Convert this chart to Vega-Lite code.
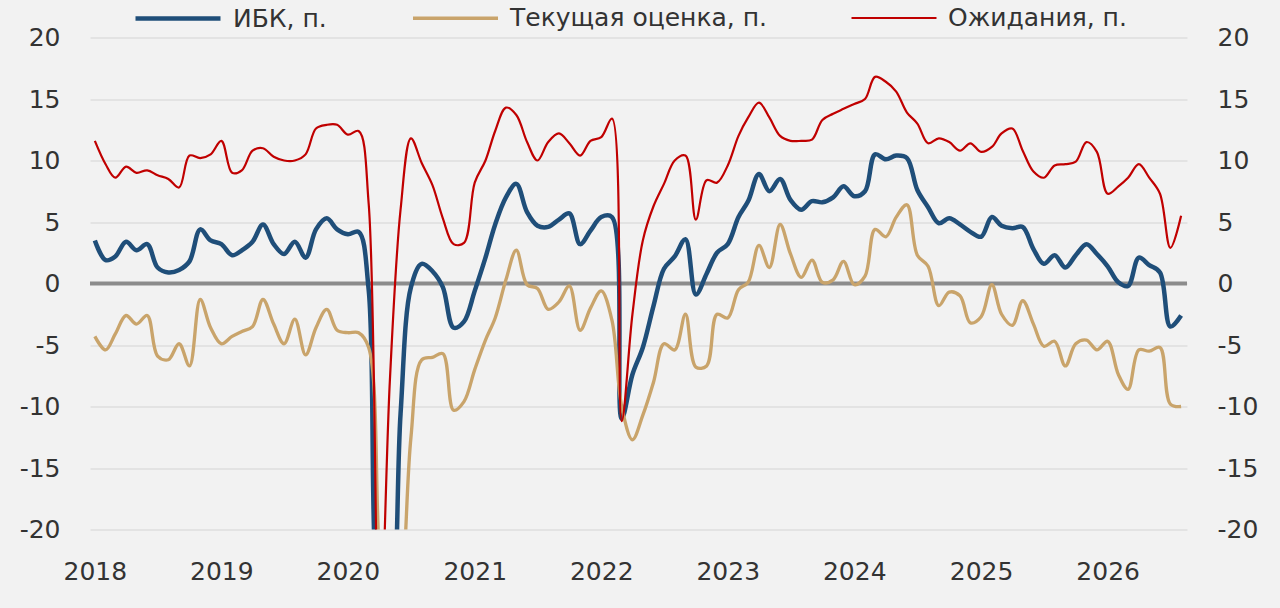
{
  "$schema": "https://vega.github.io/schema/vega-lite/v6.json",
  "width": 1097,
  "height": 492,
  "autosize": {"type": "none"},
  "padding": {"left": 90, "top": 37.5, "right": 93, "bottom": 78.5},
  "background": "#f2f2f2",
  "config": {
    "view": {"stroke": null},
    "axis": {
      "labelFont": "DejaVu Sans",
      "labelFontSize": 25,
      "labelColor": "#333333",
      "domain": false,
      "ticks": false,
      "title": null
    }
  },
  "data": {
    "values": [
      {"d": "2018-01-15", "a": 3.5, "b": -4.3, "c": 11.6},
      {"d": "2018-02-15", "a": 1.9, "b": -5.4, "c": 9.7},
      {"d": "2018-03-15", "a": 2.2, "b": -4.1, "c": 8.6},
      {"d": "2018-04-15", "a": 3.4, "b": -2.6, "c": 9.5},
      {"d": "2018-05-15", "a": 2.7, "b": -3.3, "c": 9.0},
      {"d": "2018-06-15", "a": 3.2, "b": -2.6, "c": 9.2},
      {"d": "2018-07-15", "a": 1.3, "b": -5.9, "c": 8.8},
      {"d": "2018-08-15", "a": 0.9, "b": -6.2, "c": 8.5},
      {"d": "2018-09-15", "a": 1.1, "b": -4.9, "c": 7.8},
      {"d": "2018-10-15", "a": 1.8, "b": -6.7, "c": 10.4},
      {"d": "2018-11-15", "a": 4.4, "b": -1.3, "c": 10.2},
      {"d": "2018-12-15", "a": 3.5, "b": -3.6, "c": 10.5},
      {"d": "2019-01-15", "a": 3.2, "b": -4.9, "c": 11.6},
      {"d": "2019-02-15", "a": 2.3, "b": -4.3, "c": 9.0},
      {"d": "2019-03-15", "a": 2.7, "b": -3.9, "c": 9.2},
      {"d": "2019-04-15", "a": 3.4, "b": -3.5, "c": 10.8},
      {"d": "2019-05-15", "a": 4.8, "b": -1.3, "c": 11.0},
      {"d": "2019-06-15", "a": 3.2, "b": -3.3, "c": 10.3},
      {"d": "2019-07-15", "a": 2.4, "b": -4.9, "c": 10.0},
      {"d": "2019-08-15", "a": 3.4, "b": -2.9, "c": 10.0},
      {"d": "2019-09-15", "a": 2.1, "b": -5.8, "c": 10.5},
      {"d": "2019-10-15", "a": 4.4, "b": -3.6, "c": 12.6},
      {"d": "2019-11-15", "a": 5.3, "b": -2.1, "c": 12.9},
      {"d": "2019-12-15", "a": 4.4, "b": -3.8, "c": 12.9},
      {"d": "2020-01-15", "a": 4.0, "b": -4.0, "c": 12.1},
      {"d": "2020-02-15", "a": 4.2, "b": -4.0, "c": 12.4},
      {"d": "2020-03-15", "a": -0.5, "b": -5.2, "c": 6.5},
      {"d": "2020-04-15", "a": -26, "b": -22, "c": -30},
      {"d": "2020-05-15", "a": -28, "b": -30, "c": -8},
      {"d": "2020-06-15", "a": -10.6, "b": -26, "c": 6.0},
      {"d": "2020-07-15", "a": -0.3, "b": -12.5, "c": 11.8},
      {"d": "2020-08-15", "a": 1.6, "b": -6.2, "c": 9.8},
      {"d": "2020-09-15", "a": 1.0, "b": -6.0, "c": 8.0},
      {"d": "2020-10-15", "a": -0.3, "b": -5.7, "c": 5.3},
      {"d": "2020-11-15", "a": -3.6, "b": -10.3, "c": 3.2},
      {"d": "2020-12-15", "a": -3.1, "b": -9.6, "c": 3.3},
      {"d": "2021-01-15", "a": -0.6, "b": -7.0, "c": 8.2},
      {"d": "2021-02-15", "a": 2.1, "b": -4.6, "c": 10.0},
      {"d": "2021-03-15", "a": 4.8, "b": -2.8, "c": 12.4},
      {"d": "2021-04-15", "a": 7.0, "b": 0.3, "c": 14.3},
      {"d": "2021-05-15", "a": 8.1, "b": 2.7, "c": 13.7},
      {"d": "2021-06-15", "a": 5.8, "b": -0.1, "c": 11.5},
      {"d": "2021-07-15", "a": 4.7, "b": -0.4, "c": 10.0},
      {"d": "2021-08-15", "a": 4.6, "b": -2.1, "c": 11.5},
      {"d": "2021-09-15", "a": 5.2, "b": -1.5, "c": 12.2},
      {"d": "2021-10-15", "a": 5.7, "b": -0.2, "c": 11.4},
      {"d": "2021-11-15", "a": 3.2, "b": -3.8, "c": 10.4},
      {"d": "2021-12-15", "a": 4.3, "b": -2.0, "c": 11.6},
      {"d": "2022-01-15", "a": 5.4, "b": -0.6, "c": 11.9},
      {"d": "2022-02-15", "a": 5.4, "b": -3.0, "c": 13.4},
      {"d": "2022-03-15", "a": -11.0, "b": -10.0, "c": -11.2},
      {"d": "2022-04-15", "a": -7.4, "b": -12.7, "c": -2.5},
      {"d": "2022-05-15", "a": -5.2, "b": -10.7, "c": 3.5},
      {"d": "2022-06-15", "a": -1.8, "b": -8.0, "c": 6.3},
      {"d": "2022-07-15", "a": 1.2, "b": -4.9, "c": 8.1},
      {"d": "2022-08-15", "a": 2.2, "b": -5.4, "c": 10.0},
      {"d": "2022-09-15", "a": 3.6, "b": -2.5, "c": 10.4},
      {"d": "2022-10-15", "a": -0.9, "b": -6.8, "c": 5.2},
      {"d": "2022-11-15", "a": 0.8, "b": -6.7, "c": 8.4},
      {"d": "2022-12-15", "a": 2.5, "b": -2.5, "c": 8.2},
      {"d": "2023-01-15", "a": 3.2, "b": -2.8, "c": 9.6},
      {"d": "2023-02-15", "a": 5.4, "b": -0.5, "c": 12.0},
      {"d": "2023-03-15", "a": 6.7, "b": 0.1, "c": 13.5},
      {"d": "2023-04-15", "a": 8.9, "b": 3.1, "c": 14.7},
      {"d": "2023-05-15", "a": 7.5, "b": 1.3, "c": 13.5},
      {"d": "2023-06-15", "a": 8.5, "b": 4.8, "c": 12.0},
      {"d": "2023-07-15", "a": 6.8, "b": 2.4, "c": 11.6},
      {"d": "2023-08-15", "a": 6.0, "b": 0.5, "c": 11.6},
      {"d": "2023-09-15", "a": 6.7, "b": 1.9, "c": 11.7},
      {"d": "2023-10-15", "a": 6.6, "b": 0.1, "c": 13.3},
      {"d": "2023-11-15", "a": 7.0, "b": 0.3, "c": 13.8},
      {"d": "2023-12-15", "a": 7.9, "b": 1.8, "c": 14.2},
      {"d": "2024-01-15", "a": 7.1, "b": -0.1, "c": 14.6},
      {"d": "2024-02-15", "a": 7.5, "b": 0.6, "c": 15.0},
      {"d": "2024-03-15", "a": 10.5, "b": 4.4, "c": 16.8},
      {"d": "2024-04-15", "a": 10.1, "b": 3.8, "c": 16.4},
      {"d": "2024-05-15", "a": 10.4, "b": 5.4, "c": 15.6},
      {"d": "2024-06-15", "a": 10.2, "b": 6.4, "c": 13.9},
      {"d": "2024-07-15", "a": 7.6, "b": 2.3, "c": 13.0},
      {"d": "2024-08-15", "a": 6.2, "b": 1.4, "c": 11.4},
      {"d": "2024-09-15", "a": 4.9, "b": -1.8, "c": 11.8},
      {"d": "2024-10-15", "a": 5.3, "b": -0.7, "c": 11.5},
      {"d": "2024-11-15", "a": 4.8, "b": -1.0, "c": 10.8},
      {"d": "2024-12-15", "a": 4.2, "b": -3.2, "c": 11.4},
      {"d": "2025-01-15", "a": 3.8, "b": -2.7, "c": 10.7},
      {"d": "2025-02-15", "a": 5.4, "b": -0.1, "c": 11.1},
      {"d": "2025-03-15", "a": 4.7, "b": -2.5, "c": 12.2},
      {"d": "2025-04-15", "a": 4.5, "b": -3.4, "c": 12.6},
      {"d": "2025-05-15", "a": 4.6, "b": -1.4, "c": 10.8},
      {"d": "2025-06-15", "a": 2.8, "b": -3.3, "c": 9.1},
      {"d": "2025-07-15", "a": 1.6, "b": -5.1, "c": 8.6},
      {"d": "2025-08-15", "a": 2.3, "b": -4.7, "c": 9.6},
      {"d": "2025-09-15", "a": 1.3, "b": -6.7, "c": 9.7},
      {"d": "2025-10-15", "a": 2.3, "b": -4.9, "c": 9.9},
      {"d": "2025-11-15", "a": 3.2, "b": -4.6, "c": 11.5},
      {"d": "2025-12-15", "a": 2.4, "b": -5.4, "c": 10.7},
      {"d": "2026-01-15", "a": 1.4, "b": -4.7, "c": 7.3},
      {"d": "2026-02-15", "a": 0.1, "b": -7.4, "c": 7.9},
      {"d": "2026-03-15", "a": -0.2, "b": -8.6, "c": 8.6},
      {"d": "2026-04-15", "a": 2.1, "b": -5.4, "c": 9.7},
      {"d": "2026-05-15", "a": 1.5, "b": -5.5, "c": 8.6},
      {"d": "2026-06-15", "a": 0.9, "b": -5.2, "c": 7.3},
      {"d": "2026-07-15", "a": -3.5, "b": -9.8, "c": 2.9},
      {"d": "2026-08-15", "a": -2.6, "b": -10.0, "c": 5.5}
    ]
  },
  "layer": [
    {
      "data": {"values": [{"z": 0}]},
      "mark": {"type": "rule", "color": "#8c8c8c", "strokeWidth": 4},
      "encoding": {
        "y": {
          "field": "z",
          "type": "quantitative",
          "scale": {"domain": [-20, 20], "nice": false},
          "axis": {
            "orient": "right",
            "values": [-20, -15, -10, -5, 0, 5, 10, 15, 20],
            "grid": false,
            "labelPadding": 30,
            "labelAlign": "left",
            "labelExpr": "'' + datum.value"
          }
        }
      }
    },
    {
      "transform": [
        {"fold": ["a", "b", "c"], "as": ["k", "v"]},
        {"calculate": "datum.k === 'a' ? 'ИБК, п.' : datum.k === 'b' ? 'Текущая оценка, п.' : 'Ожидания, п.'", "as": "series"}
      ],
      "mark": {"type": "line", "interpolate": "catmull-rom", "clip": true},
      "encoding": {
        "x": {
          "field": "d",
          "type": "temporal",
          "scale": {
            "type": "utc",
            "domain": [
              {"year": 2018, "month": 1, "date": 1, "utc": true},
              {"year": 2026, "month": 9, "date": 1, "utc": true}
            ]
          },
          "axis": {
            "values": [
              {"year": 2018, "month": 1, "date": 15, "utc": true},
              {"year": 2019, "month": 1, "date": 15, "utc": true},
              {"year": 2020, "month": 1, "date": 15, "utc": true},
              {"year": 2021, "month": 1, "date": 15, "utc": true},
              {"year": 2022, "month": 1, "date": 15, "utc": true},
              {"year": 2023, "month": 1, "date": 15, "utc": true},
              {"year": 2024, "month": 1, "date": 15, "utc": true},
              {"year": 2025, "month": 1, "date": 15, "utc": true},
              {"year": 2026, "month": 1, "date": 15, "utc": true}
            ],
            "format": "%Y",
            "grid": false,
            "labelPadding": 30
          }
        },
        "y": {
          "field": "v",
          "type": "quantitative",
          "scale": {"domain": [-20, 20], "nice": false},
          "axis": {
            "orient": "left",
            "values": [-20, -15, -10, -5, 0, 5, 10, 15, 20],
            "grid": true,
            "gridColor": "#e3e3e3",
            "gridWidth": 2,
            "labelPadding": 30,
            "labelExpr": "'' + datum.value"
          }
        },
        "color": {
          "field": "series",
          "type": "nominal",
          "scale": {
            "domain": ["ИБК, п.", "Текущая оценка, п.", "Ожидания, п."],
            "range": ["#1f4e79", "#c9a46b", "#c00000"]
          },
          "legend": {
            "orient": "none",
            "legendX": 43,
            "legendY": -64,
            "direction": "horizontal",
            "title": null,
            "symbolType": "stroke",
            "symbolSize": 7225,
            "labelFont": "DejaVu Sans",
            "labelFontSize": 25,
            "labelColor": "#333333",
            "labelOffset": 10,
            "labelLimit": 400,
            "columnPadding": 79,
            "padding": 0
          }
        },
        "strokeWidth": {
          "field": "series",
          "type": "nominal",
          "scale": {
            "domain": ["ИБК, п.", "Текущая оценка, п.", "Ожидания, п."],
            "range": [4.5, 2.2, 2.2]
          }
        }
      }
    }
  ],
  "resolve": {"axis": {"y": "independent"}}
}
